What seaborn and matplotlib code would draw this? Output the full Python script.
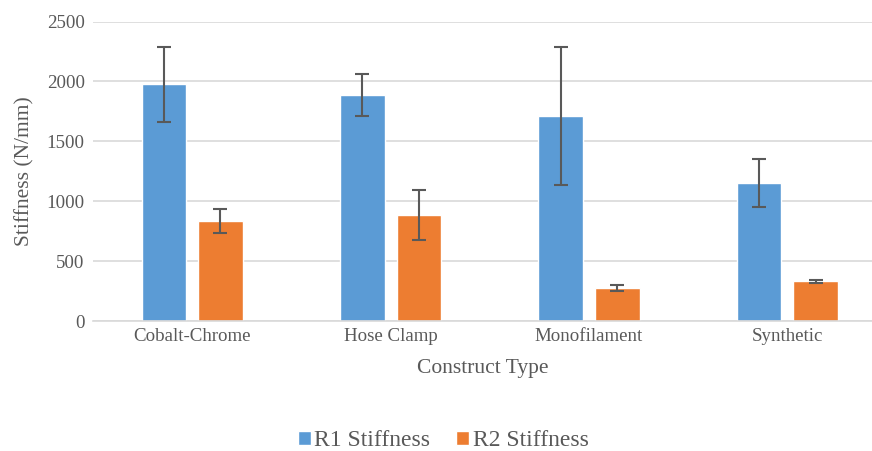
import pandas as pd
import numpy as np
import matplotlib.pyplot as plt
import seaborn as sns

# values
categories = ['Cobalt-Chrome', 'Hose Clamp', 'Monofilament', 'Synthetic']
r1_stiffness = [1975, 1884, 1712, 1153]
r2_stiffness = [834, 885, 276, 331]
r1_err = [316, 175, 575, 200]
r2_err = [100, 212, 28, 14]
series = ['R1 Stiffness', 'R2 Stiffness']

df = pd.DataFrame({
    'Construct Type': categories * 2,
    'Stiffness': r1_stiffness + r2_stiffness,
    'Series': [series[0]] * len(categories) + [series[1]] * len(categories),
})

sns.set_style('white')
plt.rcParams['font.family'] = ['Liberation Serif', 'DejaVu Serif']
grey = '#595959'

fig = plt.figure(figsize=(8.72, 4.51), dpi=100)
ax = fig.add_axes([93 / 872, 130 / 451, 779 / 872, 299.5 / 451])

sns.barplot(data=df, x='Construct Type', y='Stiffness', hue='Series',
            palette=['#5B9BD5', '#ED7D31'], width=0.57, gap=0.21,
            errorbar=None, saturation=1, ax=ax)

# error bars on top of each bar
for cont, errs in zip(ax.containers, [r1_err, r2_err]):
    xs = [b.get_x() + b.get_width() / 2 for b in cont]
    ys = [b.get_height() for b in cont]
    ax.errorbar(xs, ys, yerr=errs, fmt='none', ecolor=grey, elinewidth=1.5,
                capsize=5, capthick=1.5, zorder=5)

ax.set_ylim(0, 2500)
ax.set_xlim(-0.5, -0.5 + 779 / 198.4)
ax.set_yticks([0, 500, 1000, 1500, 2000, 2500])
ax.yaxis.grid(True, color='#D9D9D9', linewidth=1.2)
ax.set_axisbelow(True)
for s in ['top', 'right', 'left']:
    ax.spines[s].set_visible(False)
ax.spines['bottom'].set_color('#D9D9D9')
ax.spines['bottom'].set_linewidth(1.2)
ax.tick_params(axis='both', length=0, labelsize=13.6, labelcolor=grey)
ax.tick_params(axis='y', pad=6)
ax.tick_params(axis='x', pad=5)

ax.set_xlabel('Construct Type', fontsize=15.5, color=grey, labelpad=10)
ax.set_ylabel('Stiffness (N/mm)', fontsize=15.5, color=grey, labelpad=9)

handles, labels = ax.get_legend_handles_labels()
ax.legend(handles, labels, loc='center', bbox_to_anchor=(443 / 872, 10 / 451),
          bbox_transform=fig.transFigure, ncol=2, frameon=False,
          fontsize=17, handlelength=0.55, handleheight=0.55, handletextpad=0.15,
          columnspacing=1.1, labelcolor=grey)

fig.savefig('out.png', dpi=100)
